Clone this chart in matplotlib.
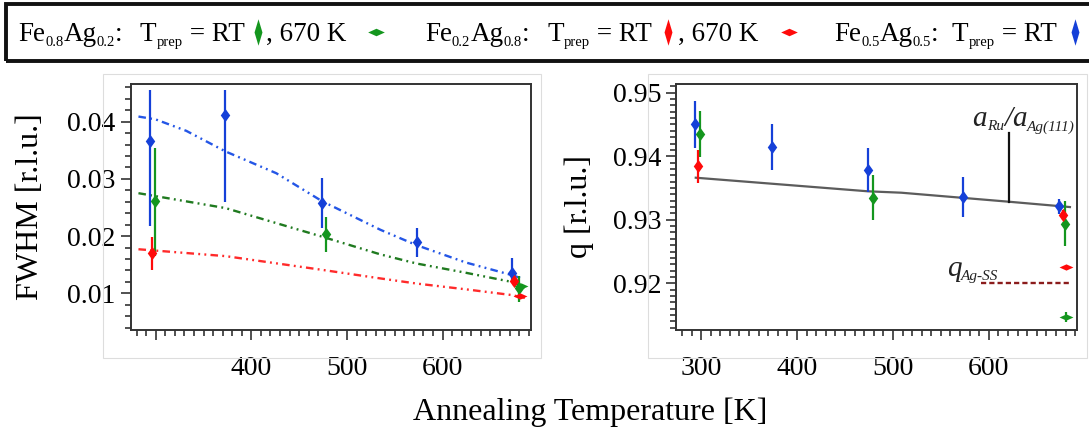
import matplotlib
matplotlib.use("Agg")
import matplotlib.pyplot as plt
from matplotlib.lines import Line2D
from matplotlib.patches import Rectangle
from matplotlib.path import Path
from matplotlib.ticker import MultipleLocator, FixedLocator

plt.rcParams["font.family"] = "serif"
plt.rcParams["font.serif"] = ["Liberation Serif", "DejaVu Serif"]
plt.rcParams["mathtext.fontset"] = "stix"

BLUE = "#1540d8"
GREEN = "#14961e"
RED = "#ff0a0a"
BLUE_FIT = "#2456e6"
GREEN_FIT = "#1f7a1f"
RED_FIT = "#ff2a2a"

# ---- FWHM panel data (T_prep = RT) ----
fw_T_blue = [293.8, 372.8, 473.6, 573.0, 672.6]
fw_blue = [0.0366, 0.0412, 0.0258, 0.0190, 0.0136]
fw_blue_lo = [0.0148, 0.0153, 0.0043, 0.0026, 0.0016]
fw_blue_hi = [0.0089, 0.0043, 0.0043, 0.0025, 0.0025]

fw_T_green = [298.9, 477.8, 679.5]
fw_green = [0.0261, 0.0203, 0.0110]
fw_green_lo = [0.0095, 0.0030, 0.0025]
fw_green_hi = [0.0093, 0.0030, 0.0021]

fw_T_red = [296.1, 675.0]
fw_red = [0.0170, 0.0122]
fw_red_lo = [0.0029, 0.0009]
fw_red_hi = [0.0029, 0.0007]

# T_prep = 670 K
fw_T_green_hot = [681.5]
fw_green_hot = [0.0112]
fw_T_red_hot = [681.0]
fw_red_hot = [0.0096]

# fit curves
fit_T_blue = [282, 300, 332, 373, 426, 474, 535, 573, 624, 672, 681]
fit_blue = [0.0409, 0.0404, 0.0384, 0.0348, 0.0310, 0.0261, 0.0211, 0.0184, 0.0154, 0.0132, 0.0127]
fit_T_green = [282, 373, 474, 535, 573, 624, 672, 686]
fit_green = [0.0275, 0.0249, 0.0199, 0.0168, 0.0152, 0.0136, 0.0120, 0.0110]
fit_T_red = [282, 373, 474, 535, 573, 624, 672, 686]
fit_red = [0.0177, 0.0165, 0.0141, 0.0126, 0.0117, 0.0107, 0.0097, 0.0092]

# ---- q panel data (T_prep = RT) ----
q_T_blue = [293.6, 373.9, 474.0, 573.3, 672.7]
q_blue = [0.9450, 0.9414, 0.9378, 0.9336, 0.9321]
q_blue_err = [0.0037, 0.0036, 0.0035, 0.0032, 0.0012]

q_T_green = [299.3, 479.2, 679.0]
q_green = [0.9435, 0.9335, 0.9294]
q_green_err = [0.0036, 0.0035, 0.0035]

q_T_red = [296.4, 676.9]
q_red = [0.9384, 0.9307]
q_red_err = [0.0026, 0.0008]

# T_prep = 670 K
q_T_green_hot = [681.0]
q_green_hot = [0.9147]
q_green_hot_err = [0.0008]
q_T_red_hot = [681.0]
q_red_hot = [0.9226]

# a_Ru / a_Ag(111) reference line
ref_T = [294.4, 474.0, 508.7, 621.0, 672.7, 684.6]
ref_q = [0.93662, 0.93448, 0.93426, 0.93284, 0.93216, 0.93200]
ref_mark_T = 621.0
ref_mark_q = (0.93284, 0.9437)
q_ss = 0.9200
q_ss_T = (592.3, 684.6)

XLIM = (274.2, 692.4)

tall_diamond = Path([(0, 1), (0.72, 0), (0, -1), (-0.72, 0), (0, 1)],
                    [Path.MOVETO, Path.LINETO, Path.LINETO, Path.LINETO, Path.CLOSEPOLY])
flat_diamond = Path([(1, 0), (0, 0.45), (-1, 0), (0, -0.45), (1, 0)],
                    [Path.MOVETO, Path.LINETO, Path.LINETO, Path.LINETO, Path.CLOSEPOLY])
legend_tall = Path([(0, 1), (0.3, 0), (0, -1), (-0.3, 0), (0, 1)],
                   [Path.MOVETO, Path.LINETO, Path.LINETO, Path.LINETO, Path.CLOSEPOLY])

fig = plt.figure(figsize=(10.89, 4.34), dpi=100)
W, H = 1089.0, 434.0
renderer = fig.canvas.get_renderer()


def fx(px):
    return px / W


def fy(py):
    return 1 - py / H


def pieces_text(x, y, pieces, **kw):
    """Draw text pieces one after another; x, y in display pixels (y from bottom)."""
    for s, size, dy in pieces:
        t = fig.text(x / W, (y + dy) / H, s, fontsize=size, ha="left", va="baseline", **kw)
        x += t.get_window_extent(renderer).width
    return x


# light frames around each panel
for x0, x1 in [(102.5, 541), (647.5, 1087)]:
    fig.add_artist(Rectangle((fx(x0), fy(358)), fx(x1 - x0), (358 - 73.5) / H,
                             transform=fig.transFigure, fill=False,
                             edgecolor="#dddddd", linewidth=0.8))

ax1 = fig.add_axes([fx(131), fy(330), fx(400), 246 / H])
ax2 = fig.add_axes([fx(676.4), fy(330), fx(401), 246 / H])


def style_axis(ax):
    for sp in ax.spines.values():
        sp.set_color("#333333")
        sp.set_linewidth(1.4)
    ax.set_xlim(*XLIM)
    ax.xaxis.set_major_locator(MultipleLocator(100))
    ax.xaxis.set_minor_locator(MultipleLocator(10))
    ax.tick_params(which="both", direction="out", top=False, right=False,
                   color="#222222", labelsize=20, width=1.1)
    ax.tick_params(which="major", length=7)
    ax.tick_params(which="minor", length=4)
    ax.tick_params(axis="x", pad=12)
    ax.tick_params(axis="y", pad=4)
    ax.patch.set_alpha(0)


def errpts(ax, T, v, err, color, marker, ms):
    ax.errorbar(T, v, yerr=err, fmt="none", ecolor=color, elinewidth=1.6, capsize=0, zorder=3)
    ax.plot(T, v, linestyle="none", marker=marker, markersize=ms, color=color,
            markeredgewidth=0, zorder=4)


dashdotdot = (0, (3.2, 1.8, 0.8, 1.8, 0.8, 1.8))

# ---- Left: FWHM ----
style_axis(ax1)
ax1.plot(fit_T_blue, fit_blue, color=BLUE_FIT, lw=1.7, linestyle=dashdotdot, zorder=2)
ax1.plot(fit_T_green, fit_green, color=GREEN_FIT, lw=1.7, linestyle=dashdotdot, zorder=2)
ax1.plot(fit_T_red, fit_red, color=RED_FIT, lw=1.7, linestyle=dashdotdot, zorder=2)
errpts(ax1, fw_T_blue, fw_blue, [fw_blue_lo, fw_blue_hi], BLUE, tall_diamond, 9.5)
errpts(ax1, fw_T_green, fw_green, [fw_green_lo, fw_green_hi], GREEN, tall_diamond, 9.5)
errpts(ax1, fw_T_red, fw_red, [fw_red_lo, fw_red_hi], RED, tall_diamond, 9.5)
ax1.plot(fw_T_green_hot, fw_green_hot, linestyle="none", marker=flat_diamond, markersize=10,
         color=GREEN, markeredgewidth=0, zorder=5)
ax1.plot(fw_T_red_hot, fw_red_hot, linestyle="none", marker=flat_diamond, markersize=10,
         color=RED, markeredgewidth=0, zorder=5)
ax1.set_ylim(0.003584, 0.04659)
ax1.yaxis.set_major_locator(FixedLocator([0.01, 0.02, 0.03, 0.04]))
ax1.yaxis.set_minor_locator(MultipleLocator(0.002))
ax1.set_yticklabels(["0.01", "0.02", "0.03", "0.04"])
ax1.set_xticks([300, 400, 500, 600])
ax1.set_xticklabels(["", "400", "500", "600"])
ax1.set_ylabel("FWHM [r.l.u.]", fontsize=23)
ax1.yaxis.set_label_coords(-0.215, 0.5)

# ---- Right: q ----
style_axis(ax2)
ax2.plot(ref_T, ref_q, color="#5c5c5c", lw=1.6, zorder=2)
ax2.plot([ref_mark_T, ref_mark_T], list(ref_mark_q), color="#111111", lw=1.6, zorder=2)
ax2.plot(list(q_ss_T), [q_ss, q_ss], color="#8b1c1c", lw=1.7, linestyle=(0, (2.2, 1.3)), zorder=2)
errpts(ax2, q_T_blue, q_blue, q_blue_err, BLUE, tall_diamond, 9.5)
errpts(ax2, q_T_green, q_green, q_green_err, GREEN, tall_diamond, 9.5)
errpts(ax2, q_T_red, q_red, q_red_err, RED, tall_diamond, 9.5)
ax2.errorbar(q_T_green_hot, q_green_hot, yerr=q_green_hot_err, fmt="none", ecolor=GREEN,
             elinewidth=1.6, capsize=0, zorder=3)
ax2.plot(q_T_green_hot, q_green_hot, linestyle="none", marker=flat_diamond, markersize=10,
         color=GREEN, markeredgewidth=0, zorder=5)
ax2.plot(q_T_red_hot, q_red_hot, linestyle="none", marker=flat_diamond, markersize=10,
         color=RED, markeredgewidth=0, zorder=5)
ax2.set_ylim(0.91265, 0.95137)
ax2.yaxis.set_major_locator(FixedLocator([0.92, 0.93, 0.94, 0.95]))
ax2.yaxis.set_minor_locator(MultipleLocator(0.001))
ax2.set_yticklabels(["0.92", "0.93", "0.94", "0.95"])
ax2.set_xticks([300, 400, 500, 600])
ax2.set_xticklabels(["300", "400", "500", "600"])
ax2.set_ylabel("q [r.l.u.]", fontsize=23)
ax2.yaxis.set_label_coords(-0.205, 0.5)

# annotations, placed in pixel space from data anchors
ax_x, ax_y = ax2.transData.transform((583.0, 0.9447))
pieces_text(ax_x, ax_y, [("a", 21, 0), ("Ru", 11, -4), ("/", 21, 0), ("a", 21, 0), ("Ag(111)", 11, -4)],
            fontstyle="italic", color="#222222")
qx, qy = ax2.transData.transform((556.0, 0.9212))
pieces_text(qx, qy, [("q", 21, 0), ("Ag-SS", 11, -4)], fontstyle="italic", color="#222222")

fig.text(fx(590), fy(412), "Annealing Temperature [K]", fontsize=23, ha="center", va="center")

# ---- legend strip at the top ----
fig.add_artist(Rectangle((fx(6), fy(61)), fx(1100), 57 / H, transform=fig.transFigure,
                         fill=False, edgecolor="#111111", linewidth=2.8, clip_on=False))
base = H - 41
SUB = -5
LS = 19.5


def comp(a, b):
    return [("Fe", LS, 0), (a, 10.5, SUB), ("Ag", LS, 0), (b, 10.5, SUB), (":", LS, 0)]


tprep = [("T", LS, 0), ("prep", 10.5, SUB), (" = RT", LS, 0)]
legend_groups = [
    (18, comp("0.8", "0.2")),
    (140, tprep),
    (266, [(", 670 K", LS, 0)]),
    (425, comp("0.2", "0.8")),
    (547, tprep),
    (678, [(", 670 K", LS, 0)]),
    (834, comp("0.5", "0.5")),
    (952, tprep),
]
for x, pcs in legend_groups:
    pieces_text(x, base, pcs)

ly = fy(32)
legend_marks = [(258, GREEN, legend_tall, 19), (376, GREEN, flat_diamond, 12),
                (668, RED, legend_tall, 19), (789, RED, flat_diamond, 12),
                (1075, BLUE, legend_tall, 19)]
for x, c, m, ms in legend_marks:
    fig.add_artist(Line2D([fx(x)], [ly], transform=fig.transFigure, marker=m, markersize=ms,
                          color=c, markeredgewidth=0, linestyle="none"))

fig.savefig("out.png", dpi=100)
